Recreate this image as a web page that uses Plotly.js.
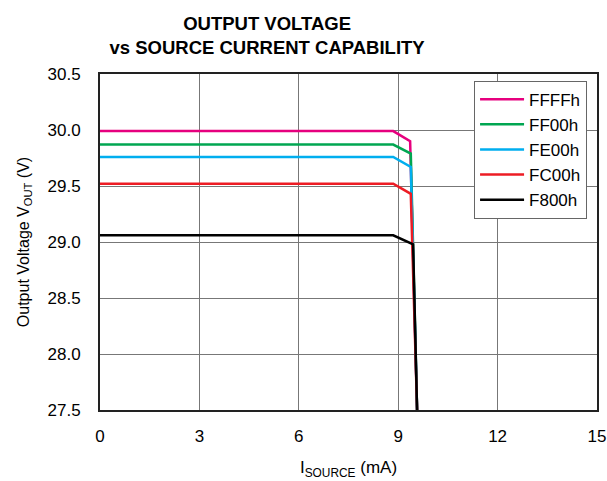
<!DOCTYPE html>
<html><head><meta charset="utf-8">
<script src="https://cdn.plot.ly/plotly-3.0.1.min.js"></script>
<style>body{margin:0;background:#fff}#c{width:607px;height:481px}</style>
</head><body><div id="c"></div>
<script>
const names = ["FFFFh","FF00h","FE00h","FC00h","F800h"];
const colors = ["#e6007e","#00a651","#00aeef","#ed1c24","#000000"];
const xFFFF = [0, 8.85, 9.36, 9.57];
const yFFFF = [29.99, 29.99, 29.90, 27.5];
const xFF00 = [0, 8.85, 9.38, 9.57];
const yFF00 = [29.87, 29.87, 29.79, 27.5];
const xFE00 = [0, 8.85, 9.38, 9.57];
const yFE00 = [29.76, 29.76, 29.67, 27.5];
const xFC00 = [0, 8.85, 9.38, 9.57];
const yFC00 = [29.52, 29.52, 29.43, 27.5];
const xF800 = [0, 8.85, 9.45, 9.57];
const yF800 = [29.06, 29.06, 28.98, 27.5];
const xs = [xFFFF, xFF00, xFE00, xFC00, xF800];
const ys = [yFFFF, yFF00, yFE00, yFC00, yF800];
const xTicks = [0, 3, 6, 9, 12, 15];
const yTicks = [27.5, 28.0, 28.5, 29.0, 29.5, 30.0, 30.5];

const traces = names.map((n, i) => ({
  x: xs[i], y: ys[i], name: n, type: 'scatter', mode: 'lines',
  line: {color: colors[i], width: 2.5}
}));
const font = {family: 'Liberation Sans, Arial, sans-serif', color: '#000'};
Plotly.newPlot('c', traces, {
  width: 607, height: 481,
  margin: {l: 100, r: 10, t: 74, b: 71},
  paper_bgcolor: '#fff', plot_bgcolor: '#fff',
  font: Object.assign({size: 17}, font),
  title: {text: '<b>OUTPUT VOLTAGE<br>vs SOURCE CURRENT CAPABILITY</b>', x: 0.44, xanchor: 'center', yref: 'container', y: 0.937, yanchor: 'middle', font: Object.assign({size: 18.5}, font)},
  xaxis: {range: [0, 15], tickvals: xTicks, ticktext: xTicks.map(String), showgrid: true, gridcolor: '#777', gridwidth: 1,
    zeroline: false, showline: true, mirror: true, linecolor: '#222', linewidth: 2, ticks: '', ticklen: 0, ticklabelstandoff: 10,
    tickfont: Object.assign({size: 17}, font),
    title: {text: 'I<sub>SOURCE</sub> (mA)', standoff: 16, font: Object.assign({size: 17}, font)}},
  yaxis: {range: [27.5, 30.5], tickvals: yTicks, ticktext: yTicks.map(v => v.toFixed(1)), showgrid: true, gridcolor: '#777', gridwidth: 1,
    zeroline: false, showline: true, mirror: true, linecolor: '#222', linewidth: 2, ticks: '', ticklen: 0, ticklabelstandoff: 14,
    tickfont: Object.assign({size: 17}, font),
    title: {text: 'Output Voltage V<sub>OUT</sub> (V)', standoff: 14, font: Object.assign({size: 16}, font)}},
  showlegend: true,
  legend: {x: 0.98, xanchor: 'right', y: 0.98, yanchor: 'top', bgcolor: '#fff', bordercolor: '#666', borderwidth: 1,
    font: Object.assign({size: 17}, font), tracegroupgap: 0, itemwidth: 44}
}, {displayModeBar: false, staticPlot: true});
</script></body></html>
